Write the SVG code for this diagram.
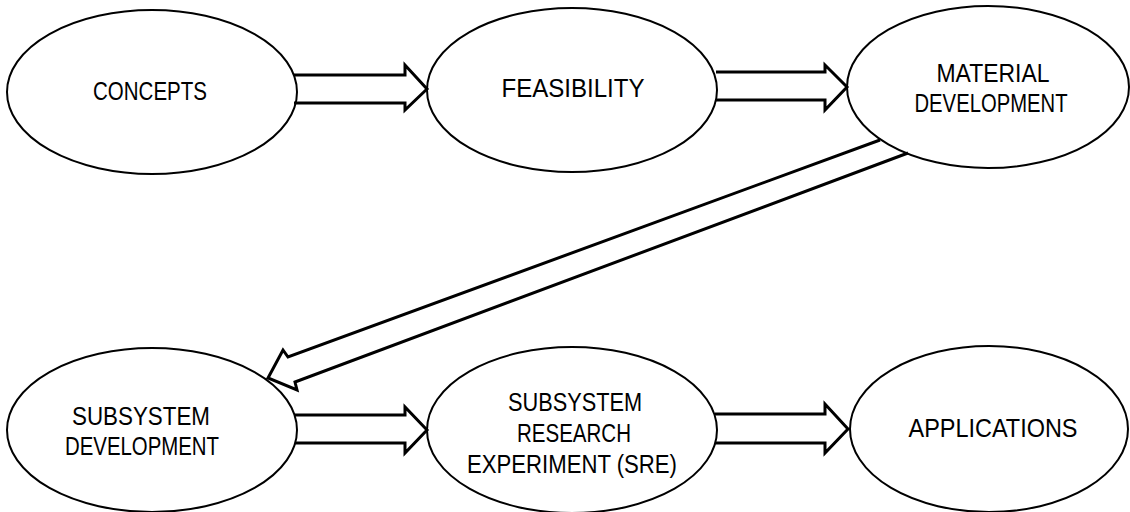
<svg xmlns="http://www.w3.org/2000/svg" width="1130" height="512" viewBox="0 0 1130 512">
<style>
.node ellipse{fill:#fff;stroke:#000;stroke-width:2}
.lbl{font-family:"Liberation Sans",Arial,sans-serif;font-size:25px;fill:#000;text-anchor:middle}
.arr{fill:none;stroke:#000;stroke-width:3;stroke-linejoin:miter}
</style>
<rect width="1130" height="512" fill="#fff"/>
<g id="concepts" class="node">
<ellipse cx="152" cy="92" rx="145" ry="82"/>
<text class="lbl" x="150" y="100" textLength="114" lengthAdjust="spacingAndGlyphs">CONCEPTS</text>
</g>
<g id="feasibility" class="node">
<ellipse cx="572" cy="90" rx="145" ry="82"/>
<text class="lbl" x="573" y="97" textLength="143" lengthAdjust="spacingAndGlyphs">FEASIBILITY</text>
</g>
<g id="material" class="node">
<ellipse cx="988" cy="87" rx="141" ry="81"/>
<text class="lbl" x="993" y="82" textLength="113" lengthAdjust="spacingAndGlyphs">MATERIAL</text>
<text class="lbl" x="991" y="112" textLength="153" lengthAdjust="spacingAndGlyphs">DEVELOPMENT</text>
</g>
<g id="subsystem-dev" class="node">
<ellipse cx="152" cy="430" rx="145" ry="82"/>
<text class="lbl" x="141" y="425" textLength="138" lengthAdjust="spacingAndGlyphs">SUBSYSTEM</text>
<text class="lbl" x="142" y="455" textLength="154" lengthAdjust="spacingAndGlyphs">DEVELOPMENT</text>
</g>
<g id="sre" class="node">
<ellipse cx="572" cy="430" rx="145" ry="83"/>
<text class="lbl" x="575" y="411" textLength="134" lengthAdjust="spacingAndGlyphs">SUBSYSTEM</text>
<text class="lbl" x="574" y="442" textLength="114" lengthAdjust="spacingAndGlyphs">RESEARCH</text>
<text class="lbl" x="572" y="473" textLength="210" lengthAdjust="spacingAndGlyphs">EXPERIMENT (SRE)</text>
</g>
<g id="applications" class="node">
<ellipse cx="989" cy="429" rx="139" ry="83"/>
<text class="lbl" x="993" y="437" textLength="169" lengthAdjust="spacingAndGlyphs">APPLICATIONS</text>
</g>
<g id="connectors">
<path class="arr" d="M294,75 L405,75 L405,65 L427,89 L405,110 L405,103 L294,103"/>
<path class="arr" d="M716,72 L825,72 L825,65 L847,87 L825,110 L825,100 L716,100"/>
<path class="arr" d="M880,140 L288,357 L283,350 L268,378 L297,390 L295,382 L908,153"/>
<path class="arr" d="M295,415 L405,415 L405,407 L427,430 L405,453 L405,443 L295,443"/>
<path class="arr" d="M715,414 L825,414 L825,404 L848,429 L825,453 L825,443 L715,443"/>
</g>
</svg>
